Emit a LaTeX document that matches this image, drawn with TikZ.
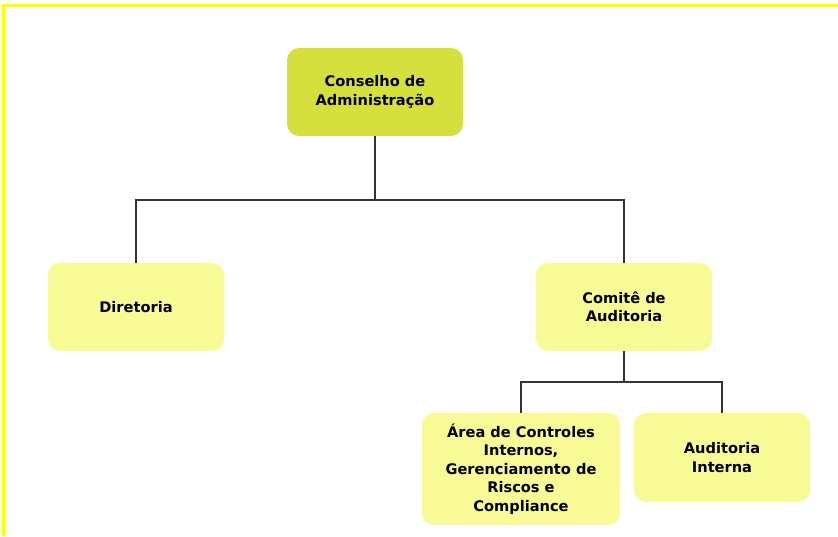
\documentclass[tikz,border=0pt]{standalone}
\usepackage{fontspec}
\setmainfont{DejaVu Sans}
\usepackage{tikz}
\usetikzlibrary{positioning}
\definecolor{boardlime}{HTML}{D5E03C}
\definecolor{unityellow}{HTML}{F8FA96}
\definecolor{framebright}{HTML}{FFFF00}
\tikzset{
	unit/.style={
		rectangle,
		rounded corners=12pt,
		draw=none,
		fill=unityellow,
		align=center,
		inner sep=0pt,
		font=\bfseries\fontsize{14.6}{18.5}\selectfont
	},
	connection/.style={
		draw=black!80,
		line width=1.5pt
	}
}
\begin{document}
\begin{tikzpicture}[
					x=1pt,y=-1pt,
					board/.style={
						unit,
						fill=boardlime
					}]

					\useasboundingbox (0,0) rectangle (838,536);

					%%% Frame
					\draw[framebright,line width=3pt] (3,536) -- (3,5.5) -- (838,5.5);

					%%% Nodes
					%% Top
					\node at (375,92) [board,minimum width=176pt,minimum height=88pt] (conselho) {Conselho de\\Administração};

					%% Second level
					\node at (136,307) [unit,minimum width=176pt,minimum height=88pt] (diretoria) {Diretoria};
					\node at (624,307) [unit,minimum width=176pt,minimum height=88pt] (comite) {Comitê de\\Auditoria};

					%% Third level
					\node at (521,469) [unit,minimum width=198pt,minimum height=112pt] (controles) {Área de Controles\\Internos,\\Gerenciamento de\\Riscos e\\Compliance};
					\node at (722,457.5) [unit,minimum width=176pt,minimum height=89pt] (auditoria) {Auditoria\\Interna};

					%%% Connections
					\draw[connection] (conselho.south) -- ++(0,64) -| (diretoria.north);
					\draw[connection] (conselho.south) -- ++(0,64) -| (comite.north);
					\draw[connection] (comite.south) -- ++(0,31) -| (controles.north);
					\draw[connection] (comite.south) -- ++(0,31) -| (auditoria.north);
				\end{tikzpicture}
\end{document}
